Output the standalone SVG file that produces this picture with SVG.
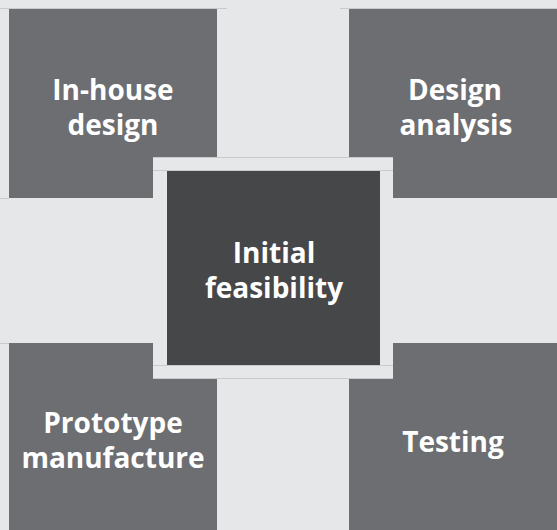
<svg xmlns="http://www.w3.org/2000/svg" width="557" height="530" viewBox="0 0 557 530">
<style>
.sq{fill:#6d6e71}
.lbl{font-family:"Open Sans","Liberation Sans",sans-serif;font-weight:700;font-size:28px;fill:#ffffff;text-anchor:middle}
.ln{stroke:#c9cacc;stroke-width:1;fill:none}
</style>
<rect x="0" y="0" width="557" height="530" fill="#e6e7e8"/>
<g class="ln">
<path d="M0 8.5H227M340 8.5H557M0 198.5H9M0 343.5H9"/>
</g>
<g id="in-house-design">
<rect class="sq" x="9" y="9" width="208" height="189"/>
<text class="lbl" x="113" y="100">In-house</text>
<text class="lbl" x="113" y="135">design</text>
</g>
<g id="design-analysis">
<rect class="sq" x="349" y="9" width="208" height="189"/>
<text class="lbl" x="455" y="100">Design</text>
<text class="lbl" x="456" y="135">analysis</text>
</g>
<g id="prototype-manufacture">
<rect class="sq" x="9" y="343" width="208" height="187"/>
<text class="lbl" x="113" y="433">Prototype</text>
<text class="lbl" x="113" y="468">manufacture</text>
</g>
<g id="testing">
<rect class="sq" x="349" y="343" width="208" height="187"/>
<text class="lbl" x="453" y="452">Testing</text>
</g>
<g id="initial-feasibility">
<rect x="153" y="157" width="240" height="222" fill="#e6e7e8"/>
<path class="ln" d="M153 157.5H393M153 170.5H393M153 365.5H393M153 378.5H393"/>
<rect x="167" y="171" width="213" height="194" fill="#464749"/>
<text class="lbl" x="274" y="263">Initial</text>
<text class="lbl" x="274" y="298">feasibility</text>
</g>
</svg>
